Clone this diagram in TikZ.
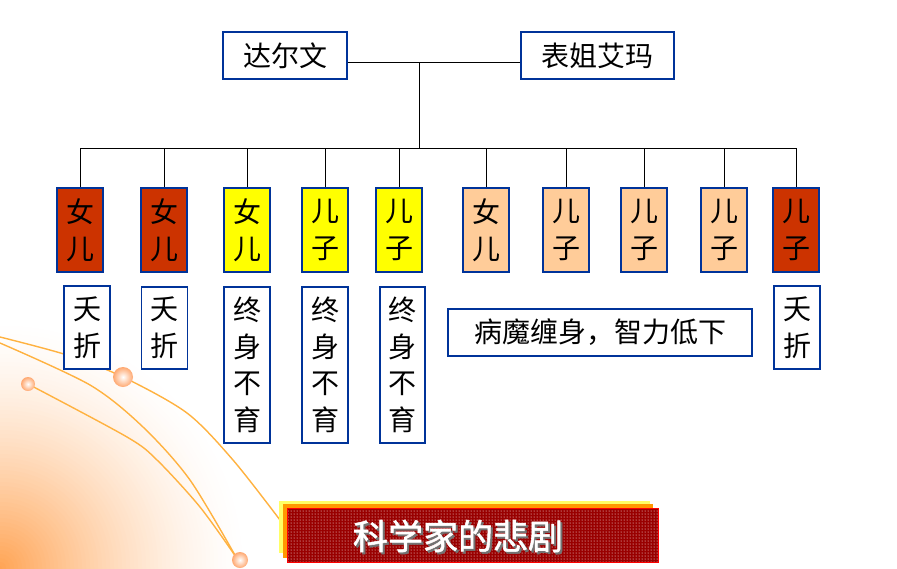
\documentclass[tikz,border=0pt]{standalone}
\usepackage{fontspec}
\newfontfamily\cjk{Noto Sans CJK SC}
\newfontfamily\cjkb[FakeBold=1.5]{Noto Sans CJK SC}
\usetikzlibrary{patterns}
\definecolor{kidred}{HTML}{CC3300}
\definecolor{kidyel}{HTML}{FFFF00}
\definecolor{kidpea}{HTML}{FFCC99}
\definecolor{boxblue}{HTML}{003399}
\definecolor{glow}{RGB}{255,140,40}
\definecolor{curvec}{HTML}{FF9900}
\definecolor{ballc}{HTML}{FFA870}
\definecolor{banred}{HTML}{990000}
\definecolor{banyel}{HTML}{FFFF66}
\definecolor{banora}{HTML}{FF9900}
\begin{document}
\begin{tikzpicture}[x=1pt,y=-1pt,
  box/.style={draw=boxblue, line width=1.2pt, fill=white, inner sep=0pt, align=center,
              font=\cjk\fontsize{28pt}{36.7pt}\selectfont},
  kid/.style={box, minimum width=46pt, minimum height=84pt},
  fate/.style={box, minimum width=46pt},
  conn/.style={draw=black, line width=1pt},
  deco/.style={draw=curvec!75!white, line width=1.4pt},
  ball/.style={inner color=white, outer color=ballc}
]
\useasboundingbox (0,0) rectangle (897,568);
\fill[white] (0,0) rectangle (897,568);
% corner glow
\begin{scope}
  \clip (0,0) rectangle (897,568);
  \foreach \r in {250,246,...,2} {
    \pgfmathsetmacro\amt{80*(1-\r/250)^1.5}
    \fill[glow!\amt!white] (0,568) circle (\r pt);
  }
\end{scope}
% decorative curves
\draw[deco] plot[smooth] coordinates {(0,337) (67,355) (123,377) (187,413) (233,460) (280,520)};
\draw[deco] plot[smooth] coordinates {(0,343) (90,385) (143,427) (190,480) (236,557)};
\draw[deco] plot[smooth] coordinates {(28,384) (127,437) (157,460) (200,507) (236,557)};
\shade[ball] (123,377) circle (10pt);
\shade[ball] (28,384) circle (7pt);
\shade[ball] (240,560) circle (8pt);

% parents
\node[box, minimum width=124pt, minimum height=47pt] (darwin) at (285,55.5) {达尔文};
\node[box, minimum width=153pt, minimum height=47pt] (emma) at (597.5,55.5) {表姐艾玛};
\coordinate (j1) at (419,62);
\coordinate (j2) at (419,148);
\coordinate (barL) at (80,148);
\coordinate (barR) at (797,148);
\draw[conn] (darwin.east |- j1) -- (emma.west |- j1);
\draw[conn] (j1) -- (j2);
\draw[conn] (barL) -- (barR);

% children
\foreach \n/\x/\c/\t in {k1/80/kidred/女\\儿, k2/164/kidred/女\\儿, k3/247/kidyel/女\\儿,
                        k4/325/kidyel/儿\\子, k5/399/kidyel/儿\\子, k6/486/kidpea/女\\儿,
                        k7/566/kidpea/儿\\子, k8/644/kidpea/儿\\子, k9/724/kidpea/儿\\子,
                        k10/796/kidred/儿\\子} {
  \node[kid, fill=\c] (\n) at (\x,230) {\t};
  \draw[conn] (\n.north |- barL) -- (\n.north);
}

% fates
\node[fate, minimum height=83pt] (fa) at (87,327.5) {夭\\折};
\node[fate, minimum height=82pt] (fb) at (164.5,328) {夭\\折};
\node[fate, minimum height=156pt] (fc) at (247,365) {终\\身\\不\\育};
\node[fate, minimum height=156pt] (fd) at (325,365) {终\\身\\不\\育};
\node[fate, minimum height=156pt, minimum width=45pt] (fe) at (402.5,365) {终\\身\\不\\育};
\node[box, minimum width=304pt, minimum height=47pt] (ff) at (600,332.5) {病魔缠身，智力低下};
\node[fate, minimum height=83pt] (fg) at (797,327.5) {夭\\折};

% title banner
\fill[banyel] (279,501) rectangle (650,553);
\fill[banora] (283,504) rectangle (653,558);
\fill[banred] (287,508) rectangle (658,562);
\fill[pattern=dots, pattern color=white] (287,508) rectangle (658,562);
\draw[red, line width=1pt] (287,508) rectangle (658,562);
\node[font=\cjkb\fontsize{35pt}{35pt}\selectfont] (title) at (458,537)
  {\makebox[0pt][l]{\hspace{2pt}\raisebox{-2pt}{\color{black!55}科学家的悲剧}}\color{white}科学家的悲剧};
\end{tikzpicture}
\end{document}
